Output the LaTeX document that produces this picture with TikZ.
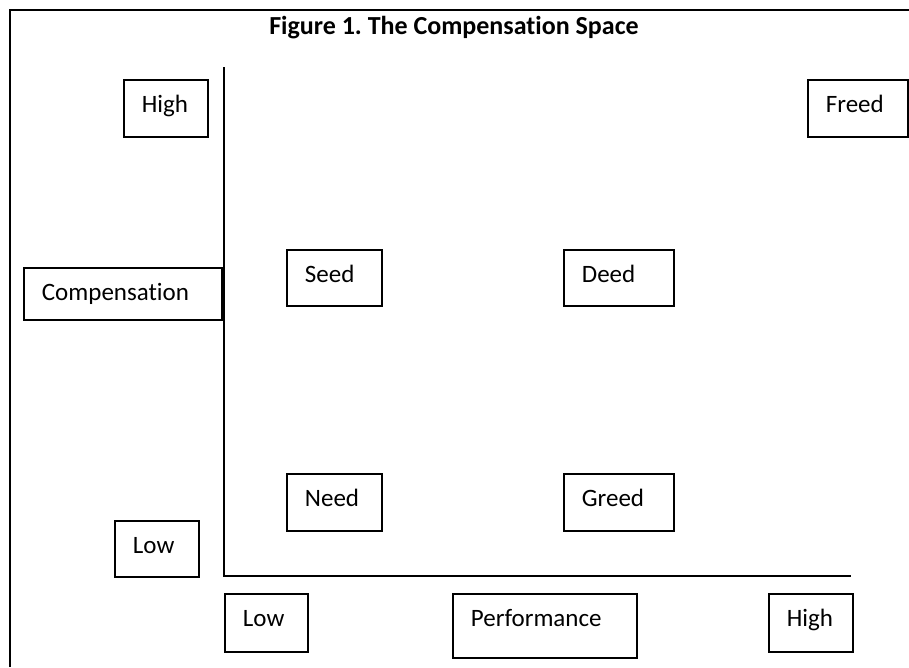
\documentclass[tikz,border=0pt]{standalone}
\usepackage{fontspec}
\setmainfont{Carlito}[Ligatures=NoCommon]
\frenchspacing

\tikzset{
  cbox/.style={draw, line width=1.8pt, anchor=north west, align=left,
    inner xsep=18pt, inner ysep=0pt, text height=33pt,
    font=\fontsize{25}{29}\selectfont},
  axis/.style={line width=2.6pt},
  frame/.style={line width=2.6pt}
}

\begin{document}
\begin{tikzpicture}[x=1pt, y=-1pt]
\useasboundingbox (0,0) rectangle (909,667);

% frame and title
\draw [frame] (10,667) -- (10,10) -- (909,10);
\node (title) at (454,28) {\fontsize{26}{31}\selectfont\bfseries Figure 1. The Compensation Space};

% axes
\coordinate (origin) at (224,576);
\coordinate (ytop) at (224,67);
\coordinate (xend) at (851,576);
\draw [axis] (ytop) -- (origin) -- (xend);

% compensation side
\node [cbox, text width=48pt, text depth=24pt] (high) at (123,79) {High};
\node [cbox, text width=162pt, text depth=19pt] (comp) at (23,267) {Compensation};
\node [cbox, text width=48pt, text depth=23pt] (lowy) at (114,520) {Low};
\node [cbox, text width=64pt, text depth=24pt] (freed) at (807,79) {Freed};

% quadrants
\node [cbox, text width=59pt, text depth=23pt] (seed) at (286,249) {Seed};
\node [cbox, text width=74pt, text depth=23pt] (deed) at (563,249) {Deed};
\node [cbox, text width=59pt, text depth=24pt] (need) at (286,473) {Need};
\node [cbox, text width=74pt, text depth=24pt] (greed) at (563,473) {Greed};

% performance side
\node [cbox, text width=47pt, text depth=25pt] (lowx) at (224,593) {Low};
\node [cbox, text width=148pt, text depth=31pt] (perf) at (452,593) {Performance};
\node [cbox, text width=48pt, text depth=25pt] (highx) at (768,593) {High};

\end{tikzpicture}
\end{document}
